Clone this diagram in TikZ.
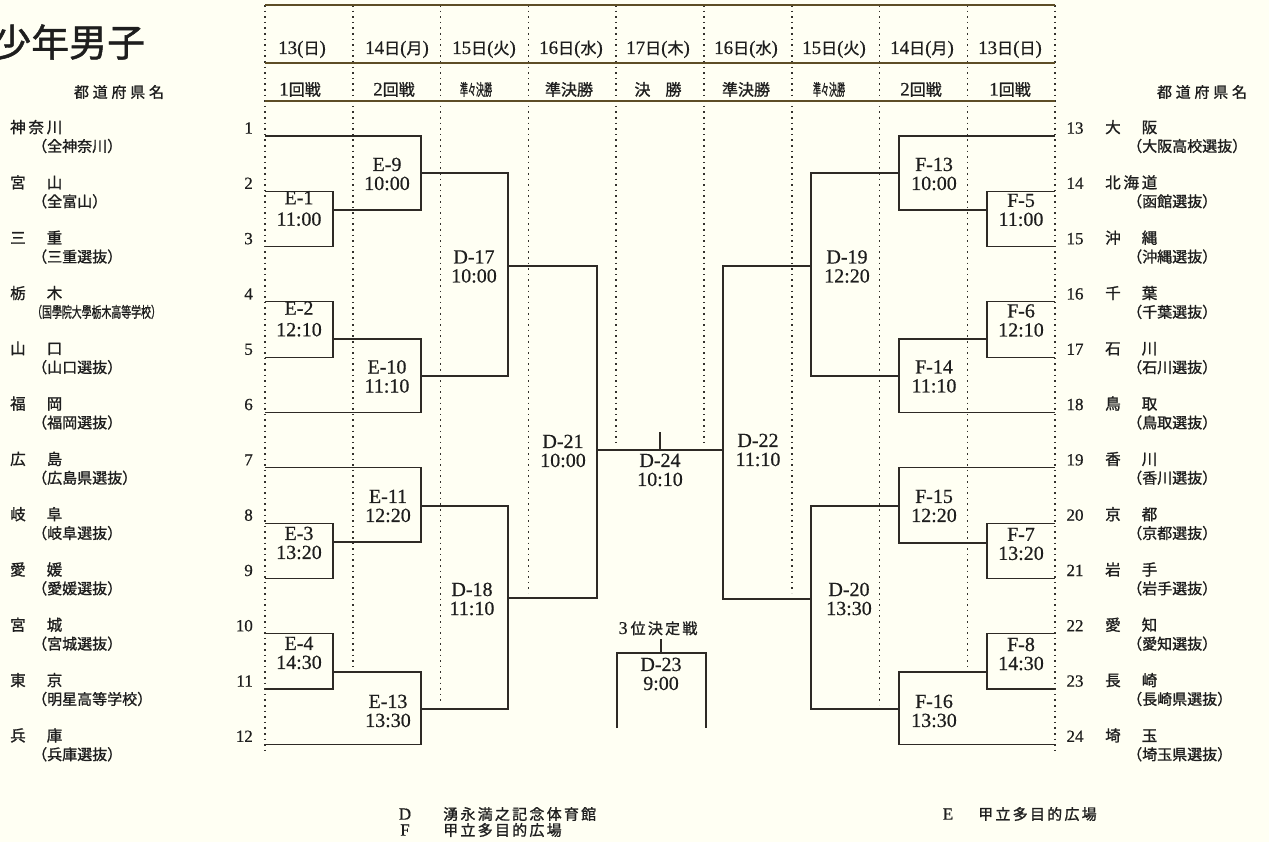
\documentclass[tikz,border=0pt]{standalone}
\usepackage{fontspec}
\usepackage{graphicx}
\setmainfont{Liberation Serif}[FakeBold=0.6]
\newfontfamily\jp[FakeBold=1.2]{Noto Sans CJK JP}
\newfontfamily\jpa[LetterSpace=18,FakeBold=1.2]{Noto Sans CJK JP}
\newfontfamily\jpb[LetterSpace=25,FakeBold=1.2]{Noto Sans CJK JP}
\newfontfamily\jpc[LetterSpace=15,FakeBold=1.2]{Noto Sans CJK JP}
\definecolor{bg}{HTML}{FFFFF3}
\definecolor{ink}{HTML}{2E2A25}
\definecolor{txt}{HTML}{1E1E1E}
\definecolor{rule}{HTML}{5E4E26}
\definecolor{dotc}{HTML}{33312C}
\newcommand\mydate[2]{{\fontsize{19}{19}\selectfont #1}{\jp\fontsize{16}{16}\selectfont 日}{\fontsize{19}{19}\selectfont(}{\jp\fontsize{16}{16}\selectfont #2}{\fontsize{19}{19}\selectfont)}}
\newcommand\myround[1]{{\fontsize{19}{19}\selectfont #1}{\jp\fontsize{16}{16}\selectfont 回戦}}
\newcommand\myqf{\scalebox{0.5}[1]{\jp\fontsize{16}{16}\selectfont 準々決勝}}
\begin{document}
\begin{tikzpicture}[x=1pt,y=-1pt,
  br/.style={draw=ink, line width=1.2pt},
  dl/.style={draw=dotc, line width=1.6pt, dash pattern=on 1.6pt off 4pt},
  hdr/.style={draw=rule, line width=1.9pt},
  lab/.style={inner sep=0pt, align=center, text=txt, font={\fontsize{20}{19}\selectfont}},
  labw/.style={lab, font={\fontsize{20}{21.5}\selectfont}},
  num/.style={inner sep=0pt, text=txt, font={\fontsize{17}{17}\selectfont}},
  nmA/.style={inner sep=0pt, text=txt, anchor=base west, font={\jpa\fontsize{15.5}{15.5}\selectfont}},
  nmB/.style={inner sep=0pt, text=txt, anchor=base west, font={\jp\fontsize{15}{15}\selectfont}},
  hd/.style={inner sep=0pt, text=txt, anchor=base}]
\fill[bg] (0,0) rectangle (1269,842);
\useasboundingbox (0,0) rectangle (1269,842);
\clip (0,0) rectangle (1269,842);

% dotted column guides
\foreach \i/\ye in {0/750,1/668,2/703,3/593,4/447,5/447,6/593,7/705,8/670,9/750}
  {\draw[dl] (265+87.8*\i,5) -- (265+87.8*\i,\ye);}

% header rules
\draw[hdr] (265,5) -- (1055,5);
\draw[hdr] (265,63) -- (1055,63);
\draw[hdr] (265,101) -- (1055,101);

% title and column heads
\node[hd, anchor=base west, font={\jp\fontsize{38}{38}\selectfont}] (title) at (-7,56.5) {少年男子};
\node[hd, font={\jpb\fontsize{15}{15}\selectfont}] (prefL) at (119,97.7) {都道府県名};
\node[hd, font={\jpb\fontsize{15}{15}\selectfont}] (prefR) at (1202,97.7) {都道府県名};

\node[hd] (h1) at (302,54) {{\fontsize{19}{19}\selectfont 13(}{\jp\fontsize{16}{16}\selectfont 日}{\fontsize{19}{19}\selectfont)}};
\node[hd] (h2) at (397,54) {\mydate{14}{月}};
\node[hd] (h3) at (484,54) {\mydate{15}{火}};
\node[hd] (h4) at (571,54) {\mydate{16}{水}};
\node[hd] (h5) at (658,54) {\mydate{17}{木}};
\node[hd] (h6) at (746,54) {\mydate{16}{水}};
\node[hd] (h7) at (834,54) {\mydate{15}{火}};
\node[hd] (h8) at (922,54) {\mydate{14}{月}};
\node[hd] (h9) at (1010,54) {\mydate{13}{日}};

\node[hd] (r1) at (300,95.5) {\myround{1}};
\node[hd] (r2) at (394,95.5) {\myround{2}};
\node[hd] (r3) at (476,95.5) {\myqf};
\node[hd, font={\jp\fontsize{16}{16}\selectfont}] (r4) at (569,95.5) {準決勝};
\node[hd, font={\jp\fontsize{16}{16}\selectfont}] (r5) at (658,95.5) {決\hspace{15pt}勝};
\node[hd, font={\jp\fontsize{16}{16}\selectfont}] (r6) at (746,95.5) {準決勝};
\node[hd] (r7) at (829,95.5) {\myqf};
\node[hd] (r8) at (921,95.5) {\myround{2}};
\node[hd] (r9) at (1010,95.5) {\myround{1}};

% seeds (left)
\foreach \k/\a/\b in {1/神奈川/（全神奈川）,2/宮　山/（全富山）,3/三　重/（三重選抜）,
  4/栃　木/{\scalebox{0.66}[1]{（国學院大學栃木高等学校）}},5/山　口/（山口選抜）,6/福　岡/（福岡選抜）,
  7/広　島/（広島県選抜）,8/岐　阜/（岐阜選抜）,9/愛　媛/（愛媛選抜）,
  10/宮　城/（宮城選抜）,11/東　京/（明星高等学校）,12/兵　庫/（兵庫選抜）}{
  \pgfmathsetmacro\yy{55.3*(\k-1)}
  \coordinate (s\k) at (265,136+\yy);
  \node[num, anchor=base east] (n\k) at (253,133.6+\yy) {\k};
  \node[nmA] (pa\k) at (10,133+\yy) {\a};
  \node[nmB] (pb\k) at (32,151.7+\yy) {\b};
}
% seeds (right)
\foreach \k/\a/\b in {13/大　阪/（大阪高校選抜）,14/北海道/（函館選抜）,15/沖　縄/（沖縄選抜）,
  16/千　葉/（千葉選抜）,17/石　川/（石川選抜）,18/鳥　取/（鳥取選抜）,
  19/香　川/（香川選抜）,20/京　都/（京都選抜）,21/岩　手/（岩手選抜）,
  22/愛　知/（愛知選抜）,23/長　崎/（長崎県選抜）,24/埼　玉/（埼玉県選抜）}{
  \pgfmathsetmacro\yy{55.3*(\k-13)}
  \coordinate (s\k) at (1055,136+\yy);
  \node[num, anchor=base] (n\k) at (1075,133.6+\yy) {\k};
  \node[nmA] (pa\k) at (1105,133+\yy) {\a};
  \node[nmB] (pb\k) at (1127,151.7+\yy) {\b};
}

% match output points
\coordinate (e1) at (333,210);  \coordinate (e2) at (333,339);
\coordinate (e3) at (333,542);  \coordinate (e4) at (333,672);
\coordinate (e9) at (421,173);  \coordinate (e10) at (421,376);
\coordinate (e11) at (421,506); \coordinate (e13) at (421,709);
\coordinate (d17) at (508,266); \coordinate (d18) at (508,598);
\coordinate (d21) at (597,450);
\coordinate (f5) at (987,210);  \coordinate (f6) at (987,339);
\coordinate (f7) at (987,543);  \coordinate (f8) at (987,672);
\coordinate (f13) at (899,173); \coordinate (f14) at (899,376);
\coordinate (f15) at (899,506); \coordinate (f16) at (899,709);
\coordinate (d19) at (811,266); \coordinate (d20) at (811,599);
\coordinate (d22) at (723,450);
\coordinate (t24) at (660,432);

% left brackets
\draw[br] (s2) -- (s2 -| e1) -- (s3 -| e1) -- (s3);
\draw[br] (s4) -- (s4 -| e2) -- (s5 -| e2) -- (s5);
\draw[br] (s8) -- (s8 -| e3) -- (s9 -| e3) -- (s9);
\draw[br] (s10) -- (s10 -| e4) -- (s11 -| e4) -- (s11);
\draw[br] (s1) -- (s1 -| e9) -- (e1 -| e9) -- (e1);
\draw[br] (e2) -- (e2 -| e10) -- (s6 -| e10) -- (s6);
\draw[br] (s7) -- (s7 -| e11) -- (e3 -| e11) -- (e3);
\draw[br] (e4) -- (e4 -| e13) -- (s12 -| e13) -- (s12);
\draw[br] (e9) -- (e9 -| d17) -- (e10 -| d17) -- (e10);
\draw[br] (e11) -- (e11 -| d18) -- (e13 -| d18) -- (e13);
\draw[br] (d17) -- (d17 -| d21) -- (d18 -| d21) -- (d18);
% right brackets
\draw[br] (s14) -- (s14 -| f5) -- (s15 -| f5) -- (s15);
\draw[br] (s16) -- (s16 -| f6) -- (s17 -| f6) -- (s17);
\draw[br] (s20) -- (s20 -| f7) -- (s21 -| f7) -- (s21);
\draw[br] (s22) -- (s22 -| f8) -- (s23 -| f8) -- (s23);
\draw[br] (s13) -- (s13 -| f13) -- (f5 -| f13) -- (f5);
\draw[br] (f6) -- (f6 -| f14) -- (s18 -| f14) -- (s18);
\draw[br] (s19) -- (s19 -| f15) -- (f7 -| f15) -- (f7);
\draw[br] (f8) -- (f8 -| f16) -- (s24 -| f16) -- (s24);
\draw[br] (f13) -- (f13 -| d19) -- (f14 -| d19) -- (f14);
\draw[br] (f15) -- (f15 -| d20) -- (f16 -| d20) -- (f16);
\draw[br] (d19) -- (d19 -| d22) -- (d20 -| d22) -- (d20);
% final
\draw[br] (d21) -- (d22);
\draw[br] (t24) -- (t24 |- d21);
% third place
\coordinate (t23) at (661,639);
\coordinate (m23) at (661,653);
\coordinate (a23) at (617,728);
\coordinate (b23) at (706,728);
\draw[br] (t23) -- (m23);
\draw[br] (a23) |- (m23) -| (b23);

% match labels
\node[labw] (lE1) at (299,208.5) {E-1\\11:00};
\node[labw] (lE2) at (299,319) {E-2\\12:10};
\node[lab] (lE3) at (299,543) {E-3\\13:20};
\node[lab] (lE4) at (299,653) {E-4\\14:30};
\node[lab] (lE9) at (387,174) {E-9\\10:00};
\node[lab] (lE10) at (387,376.5) {E-10\\11:10};
\node[lab] (lE11) at (388,506) {E-11\\12:20};
\node[lab] (lE13) at (388,711) {E-13\\13:30};
\node[lab] (lD17) at (474,266.5) {D-17\\10:00};
\node[lab] (lD18) at (472,599) {D-18\\11:10};
\node[lab] (lD21) at (563,451) {D-21\\10:00};
\node[lab] (lF5) at (1021,210) {F-5\\11:00};
\node[lab] (lF6) at (1021,320.5) {F-6\\12:10};
\node[lab] (lF7) at (1021,544) {F-7\\13:20};
\node[lab] (lF8) at (1021,654) {F-8\\14:30};
\node[lab] (lF13) at (934,174) {F-13\\10:00};
\node[lab] (lF14) at (934,376.5) {F-14\\11:10};
\node[lab] (lF15) at (934,506) {F-15\\12:20};
\node[lab] (lF16) at (934,711) {F-16\\13:30};
\node[lab] (lD19) at (847,266.5) {D-19\\12:20};
\node[lab] (lD20) at (849,599) {D-20\\13:30};
\node[lab] (lD22) at (758,450) {D-22\\11:10};
\node[lab] (lD24) at (660,470) {D-24\\10:10};
\node[lab] (lD23) at (661,674) {D-23\\9:00};
\node[hd] (third) at (658,634) {{\fontsize{18}{18}\selectfont 3\,}{\jpc\fontsize{15}{15}\selectfont 位決定戦}};

% footer
\node[hd, font={\fontsize{17}{17}\selectfont}] (kD) at (405,819.6) {D};
\node[hd, font={\fontsize{17}{17}\selectfont}] (kF) at (405,835.6) {F};
\node[hd, font={\fontsize{17}{17}\selectfont}] (kE) at (948,819.6) {E};
\node[nmB, font={\jpc\fontsize{15}{15}\selectfont}] (vD) at (443,819.7) {湧永満之記念体育館};
\node[nmB, font={\jpc\fontsize{15}{15}\selectfont}] (vF) at (443,835.7) {甲立多目的広場};
\node[nmB, font={\jpc\fontsize{15}{15}\selectfont}] (vE) at (978,819.7) {甲立多目的広場};
\end{tikzpicture}
\end{document}
